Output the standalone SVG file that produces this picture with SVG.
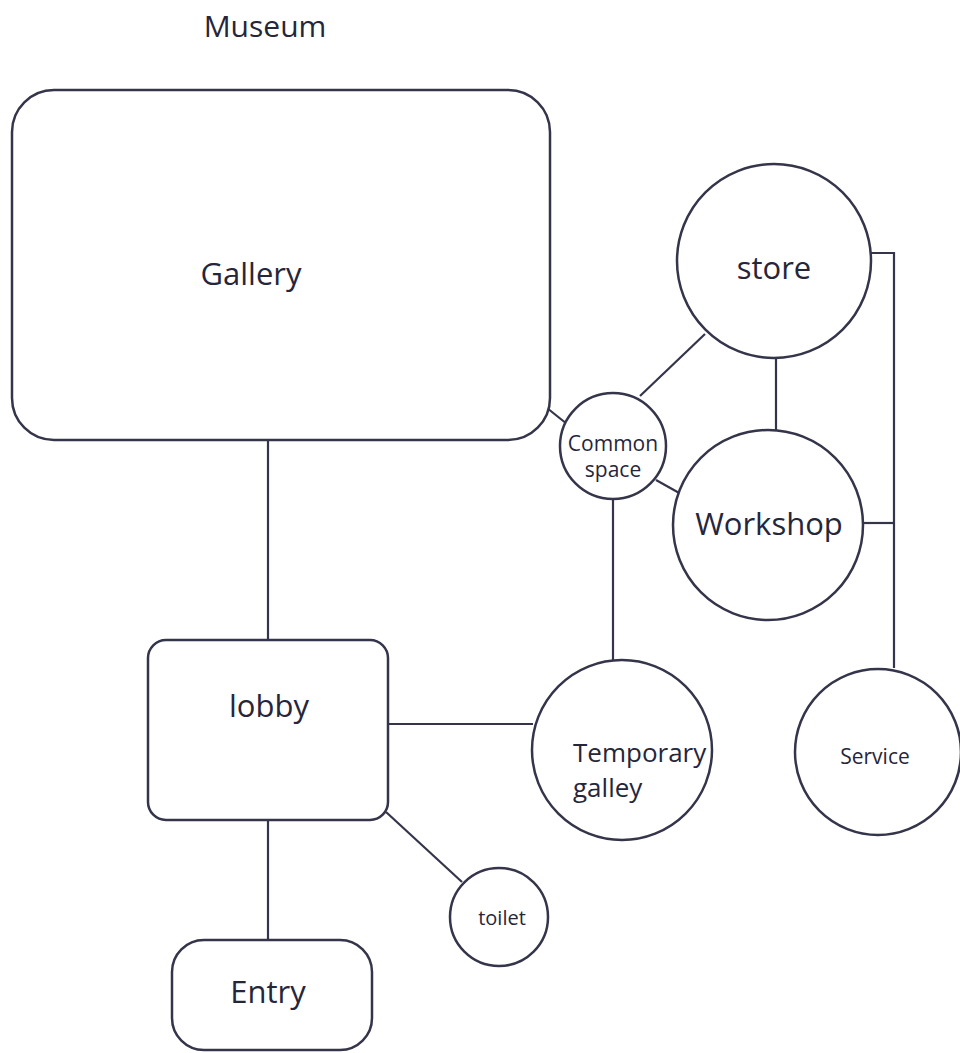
<svg xmlns="http://www.w3.org/2000/svg" width="960" height="1053" viewBox="0 0 960 1053">
<style>
.s{fill:#fff;stroke:#34344a;stroke-width:2.5}
.c{fill:none;stroke:#34344a;stroke-width:2.2}
text{font-family:"Open Sans","Noto Sans","Liberation Sans",sans-serif;fill:#26263a;text-anchor:middle;font-weight:500}
.l{font-size:31px}
.m{font-size:26px;text-anchor:start}
.cs{font-size:21px}
</style>
<rect width="960" height="1053" fill="#fff"/>
<text x="265" y="37" style="font-size:30px">Museum</text>
<g id="connectors">
<line class="c" x1="268" y1="440" x2="268" y2="640"/>
<line class="c" x1="268" y1="820" x2="268" y2="940"/>
<line class="c" x1="388" y1="724" x2="533" y2="724"/>
<line class="c" x1="386" y1="812" x2="462" y2="882"/>
<line class="c" x1="613" y1="498" x2="613" y2="660"/>
<line class="c" x1="547" y1="408" x2="567" y2="424"/>
<line class="c" x1="640" y1="396" x2="705" y2="334"/>
<line class="c" x1="656" y1="480" x2="681" y2="494"/>
<line class="c" x1="776" y1="357" x2="776" y2="430"/>
<polyline class="c" points="870,253 894,253 894,668"/>
<line class="c" x1="864" y1="523" x2="894" y2="523"/>
</g>
<g id="gallery"><rect class="s" x="12" y="90" width="538" height="350" rx="42"/><text x="251" y="285" class="l">Gallery</text></g>
<g id="common"><circle class="s" cx="613" cy="446" r="53"/><text x="613" y="451" class="cs">Common</text><text x="613" y="477" class="cs">space</text></g>
<g id="store"><circle class="s" cx="774" cy="261" r="97"/><text x="774" y="279" class="l">store</text></g>
<g id="workshop"><circle class="s" cx="768" cy="525" r="95"/><text x="769" y="535" class="l">Workshop</text></g>
<g id="service"><circle class="s" cx="878" cy="752" r="83"/><text x="875" y="764" style="font-size:21px">Service</text></g>
<g id="temporary"><circle class="s" cx="622" cy="750" r="90"/><text x="573" y="762" class="m">Temporary</text><text x="573" y="797" class="m">galley</text></g>
<g id="lobby"><rect class="s" x="148" y="640" width="240" height="180" rx="18"/><text x="269" y="717" class="l">lobby</text></g>
<g id="toilet"><circle class="s" cx="499" cy="917" r="49"/><text x="502" y="925" style="font-size:20px">toilet</text></g>
<g id="entry"><rect class="s" x="172" y="940" width="200" height="110" rx="32"/><text x="268" y="1003" class="l">Entry</text></g>
</svg>
